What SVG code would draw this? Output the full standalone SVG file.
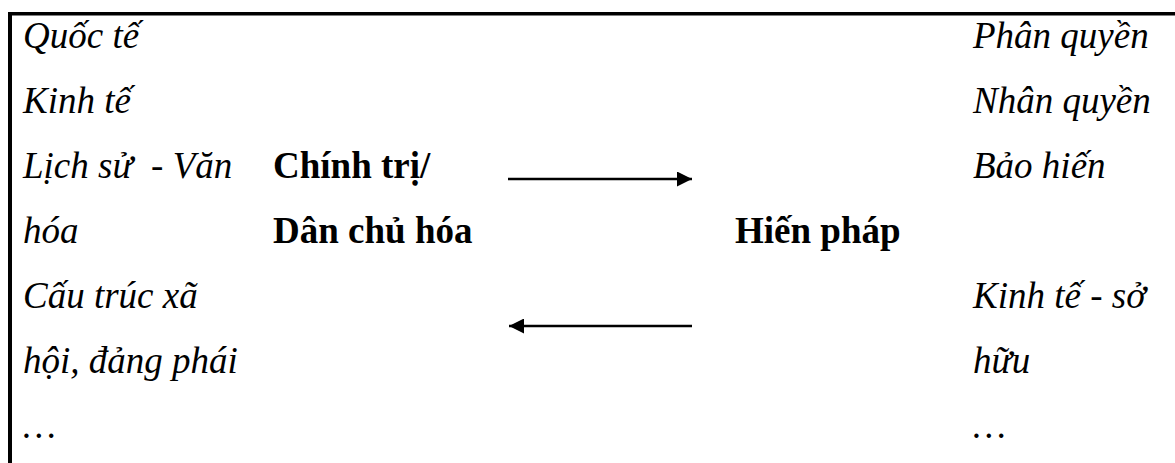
<svg xmlns="http://www.w3.org/2000/svg" width="1175" height="463" viewBox="0 0 1175 463">
<style>
text { font-family: "Liberation Serif", "Times New Roman", "DejaVu Serif", serif; font-size: 37px; fill: #000; }
.it { font-style: italic; }
.b { font-weight: bold; }
.conn { stroke: #000; stroke-width: 2.6; fill: none; }
</style>
<defs>
<marker id="ah" viewBox="0 0 15 15" refX="15" refY="7.5" markerWidth="15" markerHeight="15" markerUnits="userSpaceOnUse" orient="auto">
<path d="M0,0 L15,7.5 L0,15 Z" fill="#000"/>
</marker>
</defs>
<rect width="1175" height="463" fill="#fff"/>
<g id="frame">
<rect x="8" y="12" width="1167" height="3.5" fill="#000"/>
<rect x="8" y="12" width="4" height="451" fill="#000"/>
</g>
<g id="left-factors">
<text class="it" x="23" y="48">Quốc tế</text>
<text class="it" x="23" y="113">Kinh tế</text>
<text class="it" x="23" y="178" xml:space="preserve">Lịch sử  - Văn</text>
<text class="it" x="23" y="243">hóa</text>
<text class="it" x="23" y="308">Cấu trúc xã</text>
<text class="it" x="23" y="373">hội, đảng phái</text>
<text class="it" x="23" y="438">…</text>
</g>
<g id="node-chinh-tri">
<text class="b" x="273" y="178">Chính trị/</text>
<text class="b" x="273" y="243">Dân chủ hóa</text>
</g>
<g id="node-hien-phap">
<text class="b" x="735" y="243">Hiến pháp</text>
</g>
<g id="right-factors">
<text class="it" x="973" y="48">Phân quyền</text>
<text class="it" x="973" y="113">Nhân quyền</text>
<text class="it" x="973" y="178">Bảo hiến</text>
<text class="it" x="973" y="308">Kinh tế - sở</text>
<text class="it" x="973" y="373">hữu</text>
<text class="it" x="973" y="438">…</text>
</g>
<g id="connectors">
<line class="conn" x1="508" y1="179" x2="692" y2="179" marker-end="url(#ah)"/>
<line class="conn" x1="692" y1="326" x2="509" y2="326" marker-end="url(#ah)"/>
</g>
</svg>
